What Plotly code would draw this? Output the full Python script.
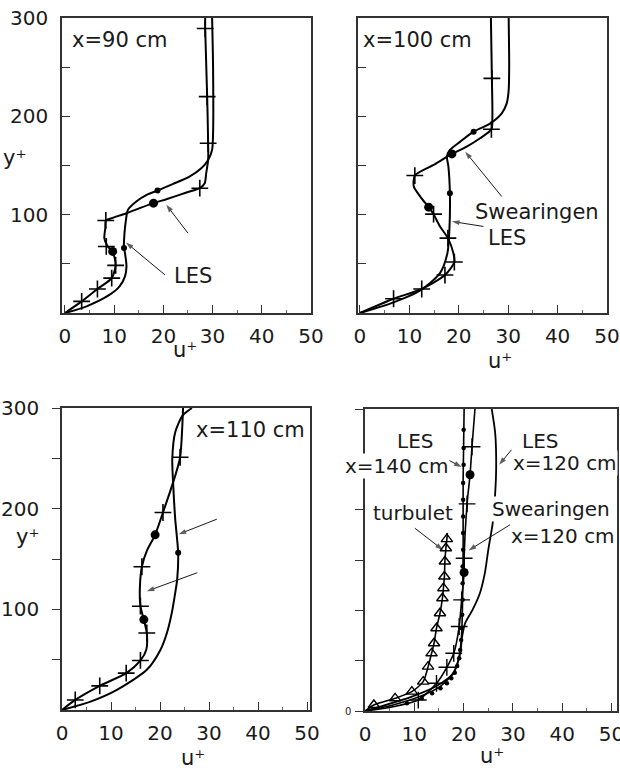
import plotly.graph_objects as go

FONT = "DejaVu Sans"
INK = "#1a1a1a"

# ---------------- Panel 1 : x = 90 cm ----------------
p1_les_u = [0, 4.4, 9.1, 11.1, 12.2, 12.5, 12.2, 12.0, 12.1, 12.4, 12.8, 14.5, 16.6, 18.8, 22.0, 25.3, 27.7, 29.1, 29.9, 30.1, 30.1, 29.9]
p1_les_y = [0, 6.8, 18.6, 27, 37.2, 47.4, 60.9, 66.0, 81.2, 94.8, 104.9, 113.4, 120.1, 124.5, 131.3, 138.7, 147.2, 155.7, 165.8, 182.7, 250.4, 300]
p1_les_dot_u = [12.0, 18.8]
p1_les_dot_y = [66.0, 124.5]

p1_sw_u = [0, 3.4, 6.6, 9.5, 10.3, 9.8, 8.6, 8.0, 8.2, 8.3, 9.5, 12.5, 15.2, 18.0, 20.6, 24.7, 27.4, 28.4, 28.7, 29.1, 29.1, 28.9, 28.5, 28.5]
p1_sw_y = [0, 11.8, 24.4, 35.5, 48.4, 60.9, 68.4, 76.1, 86.3, 94.1, 96.4, 101.5, 106.6, 111.7, 115.7, 122.5, 126.9, 132, 142, 155.7, 172.6, 220, 289.3, 300]
p1_sw_plus_u = [3.4, 6.6, 9.5, 10.3, 8.4, 8.3, 27.4, 29.1, 28.9, 28.5]
p1_sw_plus_y = [11.8, 24.4, 35.5, 48.4, 67.7, 94.1, 126.9, 172.6, 220, 289.3]
p1_sw_dot_u = [9.7, 18.0]
p1_sw_dot_y = [62.6, 111.7]

# ---------------- Panel 2 : x = 100 cm ----------------
p2_sw_u = [0, 6.8, 12.5, 17.2, 19.1, 18.9, 17.8, 16.2, 14.9, 13.9, 12.2, 10.9, 11.1, 14.9, 18.6, 21.6, 24.3, 26.6, 26.8, 26.7, 26.5]
p2_sw_y = [0, 14.5, 24.4, 38.6, 51.8, 60.9, 76.1, 88, 100.5, 107.6, 118.4, 128.6, 139.8, 150.6, 161.8, 169.2, 177.7, 186.8, 199.7, 238.6, 300]
p2_sw_plus_u = [6.8, 12.5, 17.2, 19.1, 17.8, 14.9, 11.1, 26.6, 26.7]
p2_sw_plus_y = [14.5, 24.4, 38.6, 51.8, 76.1, 100.5, 139.8, 186.8, 238.6]
p2_sw_dot_u = [13.9, 18.6]
p2_sw_dot_y = [107.6, 161.8]

p2_les_u = [0, 6.1, 12.2, 16.2, 17.7, 18.1, 18.2, 17.9, 17.6, 18.2, 20.3, 23.0, 26.4, 28.7, 29.7, 30.1, 30.2, 30.1]
p2_les_y = [0, 9.5, 23, 40.6, 60.9, 84.6, 121.8, 148.9, 159, 165.8, 174.3, 184.4, 192.9, 203, 213.2, 226.7, 250.4, 300]
p2_les_dot_u = [18.2, 23.0]
p2_les_dot_y = [121.8, 184.4]

# ---------------- Panel 3 : x = 110 cm ----------------
p3_sw_u = [0, 2.7, 7.7, 13.1, 16.0, 17.2, 17.3, 16.7, 16.0, 15.9, 16.3, 17.3, 19.0, 20.6, 22.0, 23.1, 24.1, 24.7]
p3_sw_y = [0, 10, 24, 36.6, 49.2, 59.9, 76.5, 89.8, 103.1, 123.1, 142.3, 158, 174, 196.2, 216.2, 232.8, 251.1, 300]
p3_sw_plus_u = [2.7, 7.7, 13.1, 16.0, 17.3, 16.0, 16.3, 20.6, 24.1]
p3_sw_plus_y = [10, 24, 36.6, 49.2, 76.5, 103.1, 142.3, 196.2, 251.1]
p3_sw_dot_u = [16.7, 19.0]
p3_sw_dot_y = [89.8, 174]

p3_les_u = [0, 5.8, 11.2, 17.3, 20.1, 21.4, 22.4, 23.1, 23.5, 23.7, 23.1, 22.7, 22.5, 23.1, 24.6, 26.5]
p3_les_y = [0, 8.3, 20, 39.9, 59.9, 76.5, 96.5, 116.4, 129.7, 156.3, 189.6, 222.8, 249.4, 276, 292.4, 300]
p3_les_dot_u = [23.7]
p3_les_dot_y = [156.3]

# ---------------- Panel 4 : x = 120 / 140 cm ----------------
p4_tur_u = [0, 1.8, 6.1, 9.5, 11.8, 12.8, 13.5, 14.0, 14.5, 15.2, 15.7, 15.9, 16.1, 16.2, 16.4, 16.6, 16.7]
p4_tur_y = [0, 6, 12.6, 19.2, 29.2, 44.1, 57.3, 67.3, 82.2, 97.1, 112, 122, 133.6, 148.5, 161.7, 170.7, 177]
p4_tri_u = [1.8, 6.1, 9.5, 11.8, 12.8, 13.5, 14.0, 14.5, 15.2, 15.7, 15.9, 16.1, 16.2, 16.4, 16.6]
p4_tri_y = [6, 12.6, 19.2, 29.2, 44.1, 57.3, 67.3, 82.2, 97.1, 112, 122, 133.6, 148.5, 161.7, 170.7]

p4_l140_u = [0, 5.7, 11.1, 15.2, 17.9, 19.1, 19.6, 19.8, 19.9, 19.9, 20.1]
p4_l140_y = [0, 6, 14.3, 24.2, 37.5, 54, 77.2, 113.7, 163.4, 229.7, 300]
p4_l140_dot_u = [20.0, 20.0, 20.0, 19.9, 19.9, 19.9, 19.9, 19.9, 19.8, 19.8, 19.8, 19.7, 19.6, 19.5, 19.3, 19.1, 18.7, 18.2, 17.5, 16.6, 15.3, 13.6, 11.5, 8.5]
p4_l140_dot_y = [279.4, 261.2, 244.6, 226.4, 209.8, 193.2, 176.7, 160.1, 143.5, 127, 110.4, 95.5, 82.2, 70.6, 60.7, 52.4, 44.7, 38.1, 32.5, 27.5, 22.5, 17.6, 12.6, 7.6]

p4_sw_u = [0, 5.7, 10.8, 14.5, 16.6, 18.0, 19.1, 19.6, 20.1, 20.1, 20.7, 21.3, 21.7, 22.3]
p4_sw_y = [0, 4.3, 10.9, 27.5, 43.4, 57.3, 83.9, 110.4, 137.6, 151.8, 205.8, 234.7, 262.5, 300]
p4_sw_plus_u = [10.8, 14.5, 16.6, 18.0, 19.1, 19.6, 20.1, 20.7, 21.7]
p4_sw_plus_y = [10.9, 27.5, 43.4, 57.3, 83.9, 110.4, 151.8, 205.8, 262.5]
p4_sw_dot_u = [20.1, 21.3]
p4_sw_dot_y = [137.6, 234.7]

p4_l120_u = [0, 9.1, 14.5, 17.9, 19.3, 19.7, 20.3, 21.8, 23.3, 24.3, 25.0, 25.9, 26.4, 26.6, 26.4, 25.7]
p4_l120_y = [0, 13.6, 24.9, 37.5, 57.3, 73.9, 87.2, 100.4, 117, 136.9, 160.1, 186.9, 216.4, 242.6, 276.1, 300]

# tick values
x_tick_vals = [0, 10, 20, 30, 40, 50]
x_minor_vals = [5, 15, 25, 35, 45]
y_tick_vals = [100, 200, 300]
y_minor_vals = [50, 150, 250]

fig = go.Figure()


def add_line(u, y, ax, width=2.0, smoothing=0.7):
    fig.add_trace(go.Scatter(
        x=u, y=y, mode="lines",
        line=dict(color="black", width=width, shape="spline", smoothing=smoothing),
        xaxis="x" + ax, yaxis="y" + ax, showlegend=False, hoverinfo="skip"))


def add_marks(u, y, ax, symbol, size, lw=1.5):
    fig.add_trace(go.Scatter(
        x=u, y=y, mode="markers",
        marker=dict(symbol=symbol, size=size, color="black",
                    line=dict(color="black", width=lw)),
        xaxis="x" + ax, yaxis="y" + ax, showlegend=False, hoverinfo="skip",
        cliponaxis=False))


def add_arrow(x0, y0, x1, y1, ax):
    fig.add_trace(go.Scatter(
        x=[x0, x1], y=[y0, y1], mode="lines+markers",
        line=dict(color=INK, width=1),
        marker=dict(symbol="arrow", size=[0, 8], angleref="previous", color=INK,
                    line=dict(width=0)),
        xaxis="x" + ax, yaxis="y" + ax, showlegend=False, hoverinfo="skip",
        cliponaxis=False))


# panel 1
add_line(p1_les_u, p1_les_y, "")
add_marks(p1_les_dot_u, p1_les_dot_y, "", "circle", 6, 0)
add_line(p1_sw_u, p1_sw_y, "")
add_marks(p1_sw_plus_u, p1_sw_plus_y, "", "cross-thin", 12, 1.6)
add_marks(p1_sw_dot_u, p1_sw_dot_y, "", "circle", 9, 0)
# panel 2
add_line(p2_les_u, p2_les_y, "2")
add_marks(p2_les_dot_u, p2_les_dot_y, "2", "circle", 6, 0)
add_line(p2_sw_u, p2_sw_y, "2")
add_marks(p2_sw_plus_u, p2_sw_plus_y, "2", "cross-thin", 12, 1.6)
add_marks(p2_sw_dot_u, p2_sw_dot_y, "2", "circle", 9, 0)
# panel 3
add_line(p3_les_u, p3_les_y, "3")
add_marks(p3_les_dot_u, p3_les_dot_y, "3", "circle", 6, 0)
add_line(p3_sw_u, p3_sw_y, "3")
add_marks(p3_sw_plus_u, p3_sw_plus_y, "3", "cross-thin", 12, 1.6)
add_marks(p3_sw_dot_u, p3_sw_dot_y, "3", "circle", 9, 0)
# panel 4
add_line(p4_tur_u, p4_tur_y, "4", 1.6)
add_marks(p4_tri_u, p4_tri_y, "4", "triangle-up-open", 10, 1.4)
add_line(p4_l140_u, p4_l140_y, "4", 1.6)
add_marks(p4_l140_dot_u, p4_l140_dot_y, "4", "circle", 4.5, 0)
add_line(p4_sw_u, p4_sw_y, "4", 1.6)
add_marks(p4_sw_plus_u, p4_sw_plus_y, "4", "cross-thin", 12, 1.4)
add_marks(p4_sw_dot_u, p4_sw_dot_y, "4", "circle", 9, 0)
add_line(p4_l120_u, p4_l120_y, "4", 1.8)

# arrows
add_arrow(25.0, 81.2, 20.6, 110.0, "")
add_arrow(20.3, 38.9, 12.4, 71.7, "")
add_arrow(28.7, 118.4, 21.3, 164.1, "2")
add_arrow(25.0, 88.0, 18.6, 93.1, "2")
add_arrow(31.6, 189.6, 23.8, 174.6, "3")
add_arrow(27.6, 136.4, 17.3, 118.0, "3")
add_arrow(14.9, 254.6, 19.6, 242.3, "4")
add_arrow(29.7, 259.5, 27.2, 244.6, "4")
add_arrow(10.1, 181.6, 15.8, 160.0, "4")
add_arrow(29.4, 185.0, 21.0, 159.5, "4")

H = 774.0
W = 620.0


def ydom(top, bottom):
    return [1 - bottom / H, 1 - top / H]


def xdom(left, right):
    return [left / W, right / W]


tickfont = dict(family=FONT, size=20, color=INK)


def xaxis(domain, rng, anchor):
    return dict(domain=domain, range=rng, anchor=anchor, showline=True, mirror=True,
                automargin=False, ticklabeloverflow="allow",
                linecolor="#333", linewidth=1.5, ticks="inside", ticklen=8, tickwidth=1.3,
                tickcolor="#333", tickvals=x_tick_vals, showgrid=False, zeroline=False,
                tickfont=tickfont, ticklabelstandoff=4,
                minor=dict(ticks="inside", ticklen=3, tickvals=x_minor_vals,
                           tickcolor="#666", tickwidth=1))


def yaxis(domain, anchor, ticks, labels, vals=None, font=None, standoff=6):
    return dict(domain=domain, range=[0, 300], anchor=anchor, showline=True, mirror=True,
                automargin=False, ticklabeloverflow="allow",
                linecolor="#333", linewidth=1.5, ticks=ticks, ticklen=8, tickwidth=1.3,
                tickcolor="#333", tickvals=vals if vals is not None else y_tick_vals,
                showticklabels=labels, showgrid=False, zeroline=False,
                tickfont=font or tickfont, ticklabelstandoff=standoff,
                minor=dict(ticks=ticks, ticklen=8, tickwidth=1.3, tickcolor="#333",
                           tickvals=y_minor_vals if vals is None else [50, 100, 150, 200, 250, 300]))


fig.update_layout(
    width=620, height=774,
    margin=dict(l=0, r=0, t=0, b=0, autoexpand=False),
    paper_bgcolor="white", plot_bgcolor="white",
    font=dict(family=FONT, color=INK),
    xaxis=xaxis(xdom(62, 311), [-0.6, 50], "y"),
    yaxis=yaxis(ydom(18, 313), "x", "inside", True, standoff=8),
    xaxis2=xaxis(xdom(358, 607), [-0.4, 50], "y2"),
    yaxis2=yaxis(ydom(18, 313), "x2", "inside", False),
    xaxis3=xaxis(xdom(62, 310), [0, 50.6], "y3"),
    yaxis3=yaxis(ydom(408, 710), "x3", "outside", True, standoff=9),
    xaxis4=xaxis(xdom(365, 617), [0, 51.1], "y4"),
    yaxis4=yaxis(ydom(409, 711), "x4", "outside", True, vals=[0],
                 font=dict(family=FONT, size=10, color=INK), standoff=2),
)

ann = []


def label(text, x, y, ax, xanchor="center", size=20, bg=None):
    d = dict(text=text, x=x, y=y, xref="x" + ax if ax != "paper" else "paper",
             yref="y" + ax if ax != "paper" else "paper", showarrow=False,
             xanchor=xanchor, yanchor="middle", font=dict(family=FONT, size=size, color=INK))
    if bg:
        d["bgcolor"] = bg
        d["borderpad"] = 0
    ann.append(d)


# panel 1
label("x=90 cm", 1.0, 277.5, "", "left", 21)
label("LES", 26.0, 37.9, "", size=21)
# panel 2
label("x=100 cm", 0.3, 277.5, "2", "left", 21)
label("Swearingen", 35.8, 103.2, "2", size=21)
label("LES", 29.7, 76.1, "2", size=21)
# panel 3
label("x=110 cm", 38.4, 277.7, "3", size=21)
# panel 4
label("LES", 10.1, 268.5, "4", bg="white")
label("x=140 cm", 6.4, 243.6, "4", bg="white")
label("LES", 35.5, 268.5, "4", bg="white")
label("x=120 cm", 40.5, 246.3, "4", bg="white")
label("turbulet", 9.8, 196.5, "4", bg="white")
label("Swearingen", 37.8, 200.5, "4", bg="white")
label("x=120 cm", 40.2, 173.4, "4", bg="white")

# axis titles
label("y⁺", 15 / W, 1 - 158 / H, "paper", size=21)
label("y⁺", 28 / W, 1 - 537 / H, "paper", size=21)
label("u⁺", 185 / W, 1 - 350 / H, "paper", size=21)
label("u⁺", 500 / W, 1 - 361 / H, "paper", size=21)
label("u⁺", 193 / W, 1 - 758 / H, "paper", size=21)
label("u⁺", 492 / W, 1 - 756 / H, "paper", size=21)

fig.update_layout(annotations=ann)
fig.write_html("out.html", config={"displayModeBar": False},
               post_script="document.body.style.margin='0px';")
